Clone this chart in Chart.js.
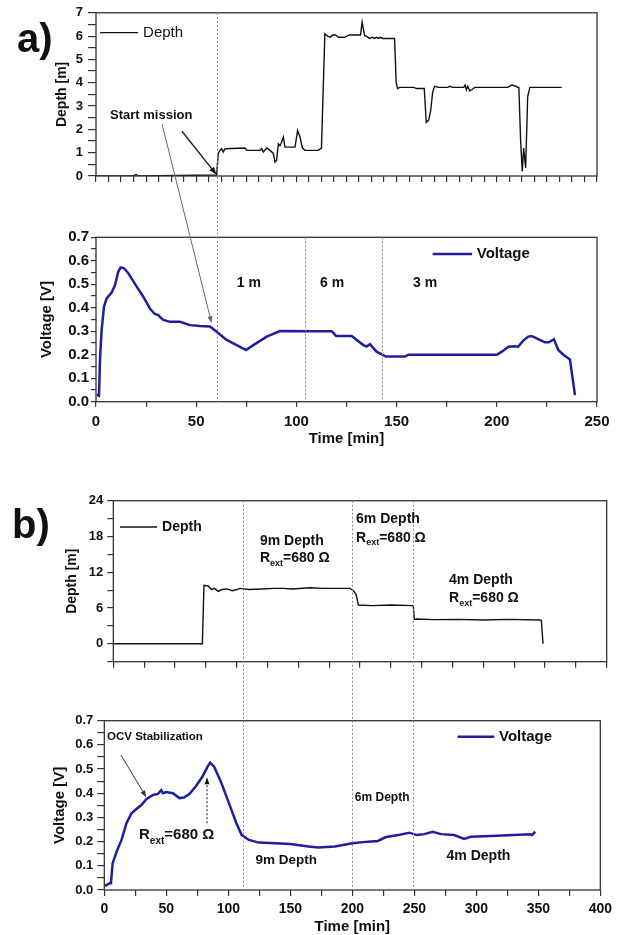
<!DOCTYPE html>
<html>
<head>
<meta charset="utf-8">
<script src="https://cdn.jsdelivr.net/npm/chart.js@4.4.1/dist/chart.umd.min.js"></script>
<style>
body { margin: 0; background: #fff; }
#wrap { position: relative; width: 617px; height: 935px; overflow: hidden; background: #fff; }
canvas { position: absolute; left: 0; }
</style>
</head>
<body>
<div id="wrap">
  <canvas id="a1" width="617" height="200" style="top:0px"></canvas>
  <canvas id="a2" width="617" height="250" style="top:200px"></canvas>
  <canvas id="b1" width="617" height="200" style="top:480px"></canvas>
  <canvas id="b2" width="617" height="245" style="top:690px"></canvas>
  <canvas id="over" width="617" height="935" style="top:0px"></canvas>
</div>
<script>
// ---- values ----
// a) depth [m] vs time [min]
const aDepthTime = [0, 18.6, 20, 21.1, 60.2, 61, 61.9, 62.7, 63.5, 64.4, 74.4, 75.2, 81.8, 82.7, 83.5, 85.2, 86.8, 88.5, 89.3, 90.1, 91, 91.8, 92.6, 93.5, 94.3, 99.3, 100.6, 101.8, 103, 104.3, 110.8, 112.5, 114.2, 115.5, 117, 118, 119.5, 121, 124, 126.5, 132, 132.8, 134.1, 135, 136.5, 138, 139, 140, 141, 142, 143, 149, 149.8, 150.5, 151.5, 158.5, 160, 163.8, 164.8, 166, 167, 168, 169, 171, 175.5, 176.5, 178, 183.5, 184.2, 184.8, 185.5, 186.5, 187.5, 189, 205.5, 206.2, 207.5, 209.5, 210.3, 211, 211.9, 212.7, 213.4, 214.4, 215.4, 216.5, 232.4];
const aDepth     = [0, 0, 0.06, 0, 0.04, 0.97, 1.1, 1.17, 1.03, 1.17, 1.2, 1.1, 1.1, 1.17, 1.03, 1.2, 1.1, 0.97, 0.6, 0.67, 1.38, 1.3, 1.45, 1.67, 1.24, 1.24, 1.95, 1.67, 1.2, 1.1, 1.1, 1.2, 6.1, 6.0, 5.95, 6.05, 6.05, 5.95, 5.95, 6.05, 6.05, 6.6, 6.0, 6.0, 5.9, 5.95, 5.9, 5.95, 5.9, 5.95, 5.9, 5.9, 4.0, 3.75, 3.8, 3.8, 3.75, 3.75, 2.3, 2.4, 2.8, 3.6, 3.85, 3.8, 3.8, 3.85, 3.8, 3.8, 3.9, 3.7, 3.85, 3.65, 3.7, 3.8, 3.8, 3.85, 3.9, 3.85, 3.8, 3.8, 1.5, 0.2, 1.2, 0.35, 3.4, 3.8, 3.8];
// a) voltage [V] vs time [min]
const aVoltTime = [0.3, 1.5, 2, 2.8, 4, 5.3, 7.8, 9.5, 11.1, 12.3, 14, 16.1, 20.3, 23.6, 26.9, 29.4, 31, 32, 33.6, 36.9, 41.9, 46.9, 51.9, 56.9, 60.2, 65.2, 70.2, 74.9, 78.5, 85.2, 91.8, 106.8, 117.6, 119.8, 127.6, 133.4, 135, 136.7, 140, 144.7, 154.2, 155.9, 200, 202.5, 205.8, 209, 210.6, 213.2, 215.7, 217.4, 219.9, 224, 226, 228.5, 230.7, 233.2, 236.5, 239];
const aVolt     = [0.03, 0.025, 0.18, 0.305, 0.405, 0.44, 0.465, 0.497, 0.553, 0.572, 0.568, 0.547, 0.49, 0.447, 0.397, 0.373, 0.37, 0.36, 0.348, 0.34, 0.34, 0.326, 0.322, 0.32, 0.298, 0.263, 0.241, 0.22, 0.241, 0.277, 0.301, 0.30, 0.30, 0.28, 0.28, 0.241, 0.235, 0.245, 0.213, 0.192, 0.192, 0.2, 0.2, 0.213, 0.234, 0.236, 0.234, 0.26, 0.277, 0.28, 0.27, 0.253, 0.253, 0.266, 0.22, 0.2, 0.18, 0.028];
// b) depth [m] vs time [min]
const bDepthTime = [0, 72.2, 73.5, 77, 79.7, 82, 85, 88, 92, 96.5, 100, 102.7, 110, 120, 130, 137.8, 145, 159.5, 170, 180, 191.9, 194.6, 196.8, 198.7, 210, 225, 243.2, 244, 246, 260, 280, 300, 320, 346, 347, 348.4];
const bDepth     = [0, 0, 9.8, 9.7, 9.1, 9.3, 8.8, 9.1, 9.2, 8.9, 9.1, 9.3, 9.1, 9.2, 9.3, 9.3, 9.2, 9.4, 9.3, 9.3, 9.3, 8.9, 8.3, 6.5, 6.4, 6.5, 6.4, 4.1, 4.15, 4.05, 4.1, 4.0, 4.1, 4.0, 3.9, 0];
// b) voltage [V] vs time [min]
const bVoltTime = [0.6, 4.6, 5.4, 6.7, 9.9, 13.9, 17.9, 21.9, 25.9, 29.9, 33.9, 39.3, 43.2, 45.9, 47.3, 49.9, 55.3, 60.6, 64.6, 68.6, 74, 79.3, 83.3, 85.4, 88.6, 94, 100.6, 106.5, 110.8, 116.6, 124.7, 138, 150, 164.7, 172.7, 186, 200, 212.7, 220.7, 226.6, 236.7, 246, 252, 258, 264.8, 271.5, 282.1, 290.2, 295.5, 316.8, 343.5, 345, 347.5];
const bVolt     = [0.017, 0.028, 0.03, 0.11, 0.158, 0.207, 0.276, 0.317, 0.335, 0.351, 0.375, 0.393, 0.397, 0.413, 0.40, 0.405, 0.40, 0.38, 0.383, 0.397, 0.43, 0.47, 0.51, 0.526, 0.51, 0.448, 0.358, 0.276, 0.227, 0.207, 0.196, 0.193, 0.19, 0.18, 0.176, 0.18, 0.193, 0.2, 0.203, 0.218, 0.227, 0.237, 0.227, 0.231, 0.241, 0.231, 0.227, 0.211, 0.22, 0.224, 0.23, 0.227, 0.241];
// dashed markers [min]
const aMarks = [60.5, 104.3, 142.6];
const bMarks = [112, 200, 249];

const FONT = '"Liberation Sans", Arial, Helvetica, sans-serif';
const INK = '#111';
const BLUE = '#1f1f9e';

const isMult = (v, m) => Math.abs(v / m - Math.round(v / m)) < 1e-6;

// box round the plot area
const frame = {
  id: 'frame',
  afterDraw(c) {
    const a = c.chartArea, ctx = c.ctx;
    ctx.save();
    ctx.strokeStyle = '#333';
    ctx.lineWidth = 1.3;
    ctx.strokeRect(a.left, a.top, a.right - a.left, a.bottom - a.top);
    ctx.restore();
  }
};

function makePanel(id, o) {
  const canvas = document.getElementById(id);
  const W = canvas.width, H = canvas.height;
  const padL = o.yTitleX - o.yTitleSize * 0.6;
  return new Chart(canvas, {
    type: 'line',
    data: {
      datasets: [{
        data: o.t.map((t, i) => ({ x: t, y: o.v[i] })),
        borderColor: o.color, borderWidth: o.lw,
        pointRadius: 0, tension: 0, fill: false
      }]
    },
    options: {
      responsive: false, animation: false, events: [],
      layout: { padding: { left: padL, top: o.area[1], right: W - o.area[2], bottom: 0 } },
      plugins: { legend: { display: false }, tooltip: { enabled: false } },
      scales: {
        x: {
          type: 'linear', min: o.xMin, max: o.xMax,
          ticks: {
            stepSize: o.xStep, maxTicksLimit: 200, autoSkip: false, maxRotation: 0,
            padding: o.xPad, color: INK, font: { family: FONT, size: o.xFont, weight: 'bold' },
            callback: v => (o.xMajor && isMult(v, o.xMajor)) ? String(v) : ''
          },
          grid: { drawOnChartArea: false, drawTicks: true, tickLength: o.xTick, color: '#333', lineWidth: 1.2 },
          border: { display: false },
          title: o.xTitle ? { display: true, text: o.xTitle, color: INK, padding: { top: 0, bottom: o.xTitlePad },
            font: { family: FONT, size: 15, weight: 'bold', lineHeight: 1.1 } } : { display: false },
          afterFit: s => { s.height = H - o.area[3]; }
        },
        y: {
          min: o.yMin, max: o.yMax,
          ticks: {
            stepSize: o.yStep, maxTicksLimit: 200, autoSkip: false,
            padding: o.yPad, color: INK, font: { family: FONT, size: o.yFont, weight: 'bold' },
            callback: v => isMult(v, o.yMajor) ? v.toFixed(o.yDec) : ''
          },
          grid: { drawOnChartArea: false, drawTicks: true, tickLength: o.yTick, color: '#333', lineWidth: 1.2 },
          border: { display: false },
          title: { display: true, text: o.yTitle, color: INK, padding: 0,
            font: { family: FONT, size: o.yTitleSize, weight: 'bold' } },
          afterFit: s => { s.width = o.area[0] - padL; }
        }
      }
    },
    plugins: [frame]
  });
}

const a1 = makePanel('a1', {
  t: aDepthTime, v: aDepth, color: '#111', lw: 1.4,
  area: [96, 12, 597, 176],
  xMin: 0, xMax: 250, xStep: 6.25, xMajor: 0, xTick: 6, xPad: 2, xFont: 12,
  yMin: 0, yMax: 7, yStep: 0.5, yMajor: 1, yDec: 0, yTick: 8, yPad: 5, yFont: 13,
  yTitle: 'Depth [m]', yTitleSize: 14, yTitleX: 62
});
const a2 = makePanel('a2', {
  t: aVoltTime, v: aVolt, color: BLUE, lw: 2.5,
  area: [96, 37.3, 597, 201.7],
  xMin: 0, xMax: 250, xStep: 25, xMajor: 50, xTick: 5, xPad: 6, xFont: 15,
  xTitle: 'Time [min]', xTitlePad: 3,
  yMin: 0, yMax: 0.7, yStep: 0.05, yMajor: 0.1, yDec: 1, yTick: 5, yPad: 2, yFont: 15,
  yTitle: 'Voltage [V]', yTitleSize: 15, yTitleX: 47
});
const b1 = makePanel('b1', {
  t: bDepthTime, v: bDepth, color: '#111', lw: 1.4,
  area: [113.3, 20.7, 606.7, 181.7],
  xMin: 0, xMax: 400, xStep: 25, xMajor: 0, xTick: 6, xPad: 2, xFont: 12,
  yMin: -3, yMax: 24, yStep: 3, yMajor: 6, yDec: 0, yTick: 6, yPad: 4, yFont: 13,
  yTitle: 'Depth [m]', yTitleSize: 14, yTitleX: 71.7
});
const b2 = makePanel('b2', {
  t: bVoltTime, v: bVolt, color: BLUE, lw: 2.5,
  area: [104.3, 30.7, 604, 200],
  xMin: 0, xMax: 400, xStep: 25, xMajor: 50, xTick: 6, xPad: 5, xFont: 14,
  xTitle: 'Time [min]', xTitlePad: 0,
  yMin: 0, yMax: 0.7, yStep: 0.05, yMajor: 0.1, yDec: 1, yTick: 7, yPad: 4, yFont: 13,
  yTitle: 'Voltage [V]', yTitleSize: 15, yTitleX: 60
});

// ---- annotations over all panels ----
const ctx = document.getElementById('over').getContext('2d');
const P = (c, top, x, y) => [c.scales.x.getPixelForValue(x), top + c.scales.y.getPixelForValue(y)];

function text(s, p, size, weight, align) {
  ctx.font = (weight || 'bold') + ' ' + size + 'px ' + FONT;
  ctx.fillStyle = INK;
  ctx.textAlign = align || 'left';
  ctx.textBaseline = 'middle';
  ctx.fillText(s, p[0], p[1]);
}
function rext(p, size, sub) {
  ctx.font = 'bold ' + size + 'px ' + FONT;
  ctx.fillStyle = INK; ctx.textAlign = 'left'; ctx.textBaseline = 'middle';
  let x = p[0];
  ctx.fillText('R', x, p[1]); x += ctx.measureText('R').width;
  ctx.font = 'bold ' + sub + 'px ' + FONT;
  ctx.fillText('ext', x, p[1] + size * 0.38); x += ctx.measureText('ext').width;
  ctx.font = 'bold ' + size + 'px ' + FONT;
  ctx.fillText('=680 \u03A9', x, p[1]);
}
function arrow(p1, p2, color, width, head, dash) {
  ctx.save();
  ctx.strokeStyle = color; ctx.fillStyle = color; ctx.lineWidth = width;
  const ang = Math.atan2(p2[1] - p1[1], p2[0] - p1[0]);
  const bx = p2[0] - head * Math.cos(ang), by = p2[1] - head * Math.sin(ang);
  ctx.setLineDash(dash || []);
  ctx.beginPath(); ctx.moveTo(p1[0], p1[1]); ctx.lineTo(bx, by); ctx.stroke();
  ctx.setLineDash([]);
  ctx.beginPath();
  ctx.moveTo(p2[0], p2[1]);
  ctx.lineTo(bx + head * 0.35 * Math.sin(ang), by - head * 0.35 * Math.cos(ang));
  ctx.lineTo(bx - head * 0.35 * Math.sin(ang), by + head * 0.35 * Math.cos(ang));
  ctx.closePath(); ctx.fill();
  ctx.restore();
}
function vdash(x, y1, y2) {
  ctx.save();
  ctx.strokeStyle = '#8a8a8a'; ctx.lineWidth = 1; ctx.setLineDash([2, 2]);
  ctx.beginPath(); ctx.moveTo(Math.round(x) + 0.5, y1); ctx.lineTo(Math.round(x) + 0.5, y2); ctx.stroke();
  ctx.restore();
}
function legendLine(p1, p2, color, width) {
  ctx.save();
  ctx.strokeStyle = color; ctx.lineWidth = width;
  ctx.beginPath(); ctx.moveTo(p1[0], p1[1]); ctx.lineTo(p2[0], p2[1]); ctx.stroke();
  ctx.restore();
}

// dashed markers
vdash(a2.scales.x.getPixelForValue(aMarks[0]), a1.chartArea.top, 200 + a2.chartArea.bottom);
aMarks.slice(1).forEach(m => vdash(a2.scales.x.getPixelForValue(m), 200 + a2.chartArea.top, 200 + a2.chartArea.bottom));
bMarks.forEach(m => vdash(b2.scales.x.getPixelForValue(m), 480 + b1.chartArea.top, 690 + b2.chartArea.bottom));

// panel letters
ctx.font = 'bold 40px ' + FONT; ctx.fillStyle = INK; ctx.textAlign = 'left'; ctx.textBaseline = 'alphabetic';
ctx.fillText('a)', 17, 52);
ctx.fillText('b)', 12, 538);

// a) top
legendLine(P(a1, 0, 2, 6.15), P(a1, 0, 21, 6.15), '#111', 1.4);
text('Depth', P(a1, 0, 23.5, 6.15), 15, 'normal');
text('Start mission', P(a1, 0, 7, 2.6), 13);
arrow(P(a1, 0, 42.9, 1.92), P(a1, 0, 60.2, 0.05), '#111', 1.3, 8);
arrow(P(a1, 0, 33, 2.22), P(a2, 200, 57.7, 0.334), '#666', 1, 7);

// a) bottom
legendLine(P(a2, 200, 168, 0.629), P(a2, 200, 187.6, 0.629), BLUE, 2.5);
text('Voltage', P(a2, 200, 190, 0.629), 15);
text('1 m', P(a2, 200, 76.3, 0.505), 14, 'bold', 'center');
text('6 m', P(a2, 200, 117.8, 0.505), 14, 'bold', 'center');
text('3 m', P(a2, 200, 164.2, 0.505), 14, 'bold', 'center');

// b) top
legendLine(P(b1, 480, 5.5, 19.6), P(b1, 480, 35.5, 19.6), '#111', 1.4);
text('Depth', P(b1, 480, 39.5, 19.6), 14);
text('9m Depth', P(b1, 480, 118.9, 17.3), 14);
rext(P(b1, 480, 118.9, 14.4), 14, 9);
text('6m Depth', P(b1, 480, 196.8, 20.9), 14);
rext(P(b1, 480, 196.8, 17.8), 14, 9);
text('4m Depth', P(b1, 480, 272.2, 10.7), 14);
rext(P(b1, 480, 272.2, 7.6), 14, 9);

// b) bottom
legendLine(P(b2, 690, 284.9, 0.634), P(b2, 690, 314.5, 0.634), BLUE, 2.5);
text('Voltage', P(b2, 690, 318.3, 0.634), 15);
text('OCV Stabilization', P(b2, 690, 2.2, 0.633), 11.5);
arrow(P(b2, 690, 13.4, 0.558), P(b2, 690, 33.9, 0.383), '#333', 1, 7);
rext(P(b2, 690, 28, 0.227), 15, 10);
arrow(P(b2, 690, 82.8, 0.276), P(b2, 690, 82.8, 0.466), '#111', 1, 7, [2, 2]);
text('9m Depth', P(b2, 690, 122, 0.124), 13.5);
text('6m Depth', P(b2, 690, 202, 0.382), 12);
text('4m Depth', P(b2, 690, 276, 0.138), 14);
</script>
</body>
</html>
